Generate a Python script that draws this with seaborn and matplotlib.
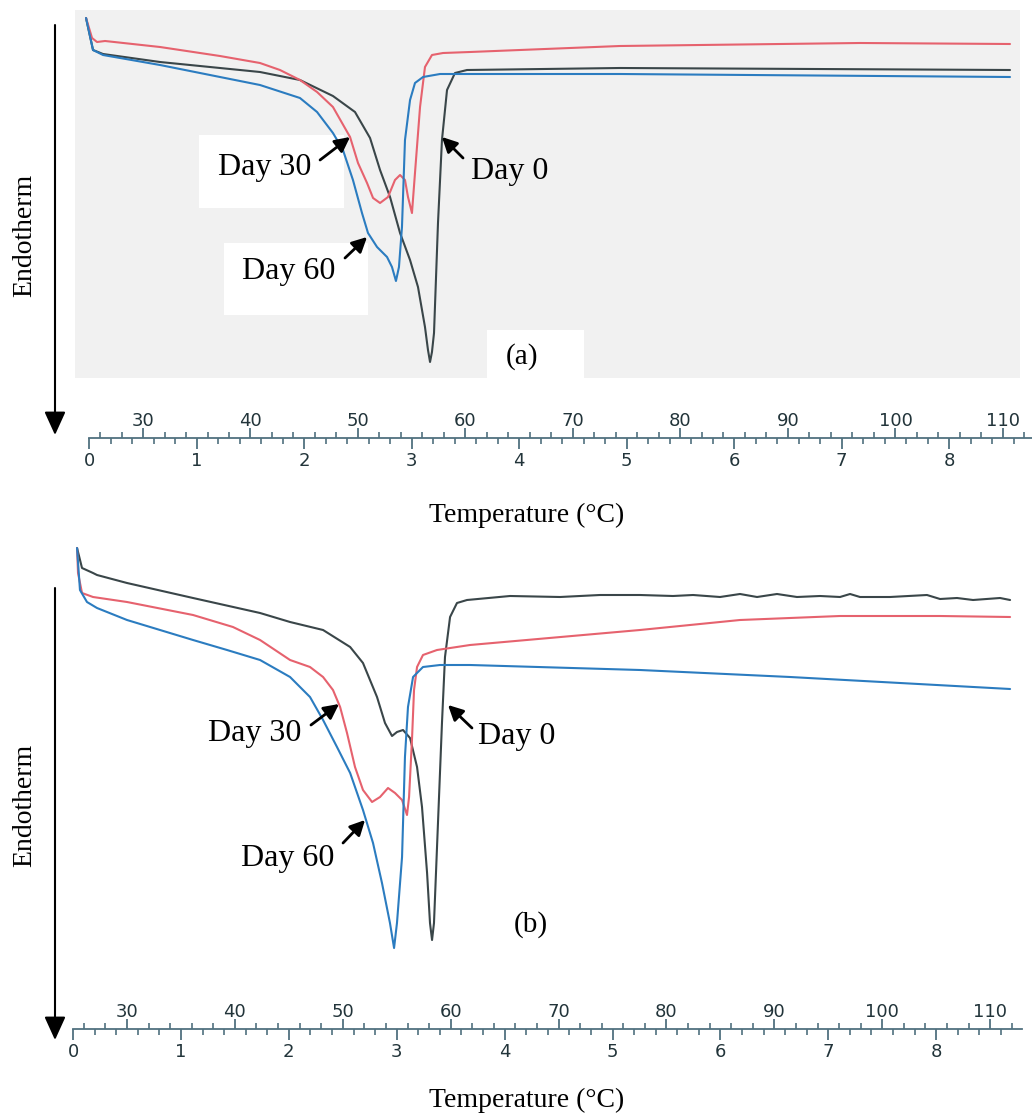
import numpy as np
import pandas as pd
import seaborn as sns
import matplotlib.pyplot as plt
from matplotlib.patches import Rectangle
from matplotlib.ticker import FixedLocator

sns.set_style("white")
plt.rcParams["font.family"] = ["DejaVu Sans"]
plt.rcParams["text.color"] = "black"
SERIF = ["Liberation Serif", "DejaVu Serif"]

samples = ["Day 0", "Day 30", "Day 60"]
colors = {"Day 0": "#3a4649", "Day 30": "#e6626e", "Day 60": "#2b7cc0"}

# panel (a): temperature (degC) vs heat flow (a.u., lower = endothermic)
a_day0_temp = [24.70, 25.35, 26.28, 31.58, 40.88, 44.60, 47.67, 49.72, 51.12, 52.05, 52.98, 53.91, 54.84,
               55.58, 56.23, 56.51, 56.70, 56.88, 57.07, 57.44, 57.81, 58.28, 59.02, 60.14, 74.37, 110.65]
a_day0_flow = [36.0, 32.8, 32.4, 31.6, 30.6, 29.8, 28.2, 26.6, 24.0, 20.8, 18.1, 14.5, 11.8,
               9.1, 5.1, 2.8, 1.6, 2.6, 4.5, 15.5, 23.8, 28.8, 30.5, 30.8, 31.0, 30.8]
a_day30_temp = [24.70, 25.26, 25.72, 26.47, 31.58, 37.16, 40.88, 42.74, 44.60, 46.19, 47.67, 49.26, 50.00,
                50.84, 51.40, 52.05, 52.79, 53.44, 53.91, 54.37, 54.65, 55.02, 55.30, 55.77, 56.23, 56.88,
                57.91, 60.42, 74.37, 96.70, 110.65]
a_day30_flow = [36.0, 34.0, 33.6, 33.7, 33.1, 32.2, 31.5, 30.8, 29.8, 28.6, 27.1, 24.1, 21.5,
                19.5, 18.0, 17.5, 18.1, 19.8, 20.3, 19.8, 18.1, 16.5, 20.5, 27.1, 31.1, 32.3,
                32.5, 32.6, 33.2, 33.5, 33.4]
a_day60_temp = [24.70, 25.35, 26.28, 31.58, 40.88, 44.60, 46.19, 47.67, 48.60, 49.53, 50.37, 50.93, 51.77,
                52.70, 53.16, 53.53, 53.81, 54.09, 54.37, 54.84, 55.30, 56.05, 57.63, 60.42, 74.37, 110.65]
a_day60_flow = [36.0, 32.8, 32.3, 31.3, 29.3, 28.0, 26.6, 24.5, 22.8, 19.8, 16.5, 14.5, 13.1,
                12.1, 11.1, 9.7, 11.1, 15.1, 23.8, 27.8, 29.5, 30.1, 30.4, 30.4, 30.4, 30.1]

# panel (b)
b_day0_temp = [25.37, 25.83, 26.85, 27.22, 30.00, 36.12, 42.33, 45.11, 48.17, 50.68, 51.87, 53.17, 53.91,
               54.56, 55.02, 55.58, 56.23, 56.88, 57.34, 57.81, 58.08, 58.27, 58.45, 58.82, 59.19, 59.47,
               59.94, 60.58, 61.51, 65.50, 70.13, 73.84, 77.54, 80.60, 82.46, 84.96, 86.81, 88.39, 90.24,
               92.09, 94.23, 96.08, 97.01, 97.93, 100.71, 104.14, 105.35, 106.92, 108.41, 110.91, 111.84]
b_day0_flow = [41.2, 39.2, 38.7, 38.5, 37.7, 36.2, 34.7, 33.8, 33.0, 31.3, 29.7, 26.3, 23.7,
               22.4, 22.8, 23.0, 22.2, 19.3, 15.3, 8.7, 3.7, 2.0, 3.7, 13.7, 23.7, 30.3,
               34.3, 35.7, 36.0, 36.4, 36.3, 36.5, 36.5, 36.4, 36.5, 36.3, 36.6, 36.3, 36.6,
               36.3, 36.4, 36.3, 36.6, 36.3, 36.3, 36.5, 36.1, 36.2, 36.0, 36.2, 36.0]
b_day30_temp = [25.37, 25.46, 25.83, 26.85, 30.00, 36.12, 39.82, 42.33, 45.11, 46.96, 48.17, 49.09, 49.75,
                50.39, 51.13, 51.87, 52.71, 53.45, 54.19, 54.84, 55.49, 55.95, 56.14, 56.41, 56.60, 56.88,
                57.43, 58.73, 61.79, 77.54, 86.81, 96.08, 105.35, 111.84]
b_day30_flow = [41.2, 38.7, 36.7, 36.3, 35.8, 34.5, 33.3, 32.0, 30.0, 29.3, 28.3, 27.0, 25.3,
                22.7, 19.3, 17.0, 15.8, 16.3, 17.2, 16.7, 16.0, 14.5, 16.3, 22.0, 27.0, 29.3,
                30.5, 31.0, 31.5, 33.0, 34.0, 34.4, 34.4, 34.3]
b_day60_temp = [25.37, 25.64, 26.29, 27.22, 30.00, 36.12, 39.27, 42.33, 45.11, 46.96, 48.17, 49.46, 50.68,
                51.87, 52.80, 53.63, 54.37, 54.75, 55.02, 55.49, 55.76, 56.04, 56.51, 57.43, 59.01, 61.79,
                77.54, 91.45, 111.84]
b_day60_flow = [41.2, 37.0, 35.8, 35.2, 34.0, 32.0, 31.0, 30.0, 28.3, 26.3, 24.0, 21.3, 18.7,
                15.0, 11.7, 7.7, 3.7, 1.2, 3.7, 10.3, 20.3, 25.3, 28.3, 29.3, 29.5, 29.5,
                29.0, 28.3, 27.1]

temp_major = [30, 40, 50, 60, 70, 80, 90, 100, 110]
min_major = [0, 1, 2, 3, 4, 5, 6, 7, 8]


def long_df(temps, flows):
    parts = [pd.DataFrame({"temp": t, "flow": f, "sample": s}) for s, t, f in zip(samples, temps, flows)]
    return pd.concat(parts, ignore_index=True)


df_a = long_df([a_day0_temp, a_day30_temp, a_day60_temp], [a_day0_flow, a_day30_flow, a_day60_flow])
df_b = long_df([b_day0_temp, b_day30_temp, b_day60_temp], [b_day0_flow, b_day30_flow, b_day60_flow])

W, H = 1032, 1115
fig = plt.figure(figsize=(W / 100, H / 100), dpi=100)


def px_rect(x0, y0, x1, y1):
    return [x0 / W, 1 - y1 / H, (x1 - x0) / W, max(y1 - y0, 0.01) / H]


ruler_col = "#50717f"
label_col = "#22343a"


def draw_ruler(y, x0, x1, lims):
    r = fig.add_axes(px_rect(x0, y, x1, y))
    r.set_xlim(*lims)
    r.set_ylim(0, 1)
    r.patch.set_visible(False)
    for side in ["left", "right", "bottom"]:
        r.spines[side].set_visible(False)
    r.spines["top"].set_color(ruler_col)
    r.spines["top"].set_linewidth(1.3)
    r.spines["top"].set_bounds(25, lims[1])
    r.set_yticks([])
    r.xaxis.tick_top()
    r.set_xticks(temp_major)
    r.xaxis.set_minor_locator(FixedLocator(np.arange(26, 113, 2)))
    r.tick_params(axis="x", which="major", direction="out", length=7, width=1.3,
                  color=ruler_col, labelsize=13, labelcolor=label_col, pad=-1)
    r.tick_params(axis="x", which="minor", direction="out", length=4, width=1.2, color=ruler_col)
    sec = r.secondary_xaxis("bottom", functions=(lambda t: (t - 25) / 10, lambda m: 25 + 10 * m))
    sec.spines["bottom"].set_visible(False)
    sec.set_xticks(min_major)
    sec.xaxis.set_minor_locator(FixedLocator(np.arange(0, 8.9, 0.2)))
    sec.tick_params(axis="x", which="major", direction="out", length=8, width=1.3,
                    color=ruler_col, labelsize=13, labelcolor=label_col, pad=2)
    sec.tick_params(axis="x", which="minor", direction="out", length=4, width=1.2, color=ruler_col)


def draw_panel(df, box, lims, ylim, face, labels, tag):
    ax = fig.add_axes(px_rect(*box))
    sns.lineplot(data=df, x="temp", y="flow", hue="sample", hue_order=samples, palette=colors,
                 estimator=None, sort=False, legend=False, lw=1.5, ax=ax)
    ax.set_xlim(*lims)
    ax.set_ylim(*ylim)
    ax.set_facecolor(face)
    for s in ax.spines.values():
        s.set_visible(False)
    ax.set_xticks([])
    ax.set_yticks([])
    ax.set_xlabel("")
    ax.set_ylabel("")
    for text, (tx, ty), tip, tail in labels:
        ax.text(tx, ty, text, ha="center", va="center", fontsize=23, family=SERIF, color="black", zorder=5)
        ax.annotate("", xy=tip, xytext=tail, zorder=5,
                    arrowprops=dict(arrowstyle="-|>,head_length=0.75,head_width=0.38", color="black",
                                    lw=2, mutation_scale=12, shrinkA=0, shrinkB=0))
    ax.text(tag[1][0], tag[1][1], tag[0], ha="center", va="center", fontsize=21, family=SERIF,
            color="black", zorder=5)
    return ax


ax_a = draw_panel(df_a, (75, 10, 1020, 378), (23.674, 111.58), (0, 36.8), "#f1f1f1",
                  [("Day 30", (41.35, 21.1), (49.26, 24.1), (46.47, 21.8)),
                   ("Day 0", (64.14, 20.7), (57.81, 24.1), (59.77, 22.0)),
                   ("Day 60", (43.58, 10.6), (50.84, 14.1), (48.79, 12.0))],
                  ("(a)", (65.26, 2.1)))
# white boxes pasted behind the labels in the top panel
for x0, y0, x1, y1 in [(199, 135, 344, 208), (224, 243, 368, 315), (487, 330, 584, 380)]:
    ax_a.add_patch(Rectangle((x0 / W, 1 - y1 / H), (x1 - x0) / W, (y1 - y0) / H,
                             transform=fig.transFigure, facecolor="white", edgecolor="none",
                             zorder=1, clip_on=False))

ax_b = draw_panel(df_b, (70, 540, 1020, 960), (24.717, 112.76), (0, 42), "white",
                  [("Day 30", (41.86, 22.7), (49.65, 25.6), (47.05, 23.5)),
                   ("Day 0", (66.14, 22.4), (59.75, 25.5), (61.97, 23.2)),
                   ("Day 60", (44.92, 10.2), (52.06, 14.0), (50.02, 11.7))],
                  ("(b)", (67.44, 3.5)))

draw_ruler(438, 75, 1032, (23.674, 112.70))
draw_ruler(1029, 70, 1022, (24.717, 112.95))

# overlay in pixel coordinates for the axis captions
ov = fig.add_axes([0, 0, 1, 1])
ov.set_xlim(0, W)
ov.set_ylim(H, 0)
ov.axis("off")
for y_top, y_tip, y_txt, y_lab in [(25, 435, 235, 515), (588, 1040, 805, 1100)]:
    ov.annotate("", xy=(55, y_tip), xytext=(55, y_top),
                arrowprops=dict(arrowstyle="-|>,head_length=1.1,head_width=0.5", color="black",
                                lw=1.5, mutation_scale=13, shrinkA=0, shrinkB=0))
    ov.text(25, y_txt, "Endotherm", rotation=90, ha="center", va="center", fontsize=20,
            family=SERIF, color="black")
    ov.text(527, y_lab, "Temperature (°C)", ha="center", va="center", fontsize=20,
            family=SERIF, color="black")

fig.savefig("out.png", dpi=100)
